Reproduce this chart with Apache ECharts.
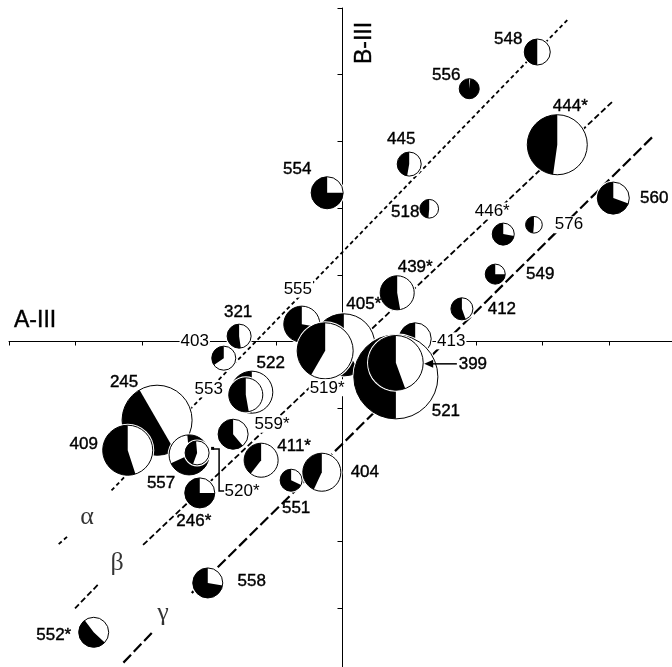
<!DOCTYPE html>
<html>
<head>
<meta charset="utf-8">
<script src="https://cdn.jsdelivr.net/npm/echarts@6/dist/echarts.min.js"></script>
<style>
  html, body { margin: 0; padding: 0; background: #fff; }
  #chart { width: 672px; height: 667px; }
</style>
</head>
<body>
<div id="chart"></div>
<script>
// Pie glyphs placed on the A-III / B-III plane.
// size = diameter in axis units; black sector given in degrees clockwise from 12 o'clock.
// Array order is drawing order (overlapping ones drawn later sit on top).
const pieNames  = ['245', '409', '557', '520*', '522', '553', '555', '405*', '519*', '413', '521', '399',
                   '548', '556', '444*', '445', '554', '518', '560', '446*', '576', '549', '439*', '412',
                   '321', '403', '559*', '411*', '246*', '551', '404', '558', '552*'];
const pieX      = [-2.78, -3.22, -2.30, -2.18, -1.36, -1.45, -0.61, 0.02, -0.26, 1.09, 0.80, 0.80,
                   2.92, 1.90, 3.22, 1.00, -0.23, 1.30, 4.06, 2.41, 2.87, 2.29, 0.82, 1.79,
                   -1.55, -1.78, -1.64, -1.22, -2.14, -0.77, -0.31, -2.02, -3.73];
const pieY      = [-1.18, -1.63, -1.70, -1.67, -0.76, -0.80, 0.26, -0.05, -0.14, 0.04, -0.53, -0.32,
                   4.34, 3.79, 2.95, 2.66, 2.23, 1.99, 2.15, 1.61, 1.75, 1.01, 0.73, 0.49,
                   0.08, -0.25, -1.39, -1.78, -2.27, -2.08, -1.96, -3.62, -4.36];
const pieSize   = [1.05, 0.75, 0.60, 0.36, 0.63, 0.51, 0.54, 0.93, 0.84, 0.48, 1.26, 0.82,
                   0.39, 0.30, 0.90, 0.36, 0.48, 0.28, 0.48, 0.33, 0.25, 0.30, 0.51, 0.33,
                   0.36, 0.36, 0.45, 0.51, 0.45, 0.33, 0.57, 0.45, 0.45];
const blackFrom = [150, 162, -5, 200, 180, 170, 100, 150, 210, 180, 180, 160,
                   180, 6, 188, 190, 90, 185, 110, 100, 185, 90, 170, 160,
                   172, 235, 140, 218, 90, 115, 205, 100, 133];
const blackTo   = [330, 360, 245, 355, 360, 360, 360, 360, 360, 360, 360, 360,
                   360, 360, 360, 360, 360, 360, 360, 360, 360, 360, 360, 360,
                   360, 360, 360, 360, 360, 360, 360, 360, 323];

// Reference lines alpha, beta, gamma (segments, broken where the greek letter sits)
const alphaLine = [[[3.37, 4.82], [-3.49, -2.26]], [[-4.13, -2.93], [-4.27, -3.05]]];
const betaLine  = [[[4.04, 3.59], [-2.99, -3.05]], [[-3.67, -3.65], [-4.01, -4.00]]];
const gammaLine = [[[4.64, 3.06], [-2.26, -3.77]], [[-2.86, -4.37], [-3.29, -4.82]]];
const greekNames = ['α', 'β', 'γ'];
const greekPos   = [[-3.83, -2.64], [-3.38, -3.32], [-2.69, -4.07]];

// label offsets from the pie centre (px), third entry = white box over lines
const labelPos = {
  '548': [-29, -13], '556': [-23, -13], '444*': [13, -38], '445': [-8, -25], '554': [-30, -23],
  '518': [-24, 4], '560': [41, 0], '446*': [-11, -23, true], '576': [35, 0, true], '549': [45, 0],
  '439*': [18, -25], '412': [40, 0], '321': [-1, -24], '403': [-29, -17, true], '555': [-4, -35, true],
  '405*': [20, -41], '519*': [2, 37, true], '413': [36, 2, true], '521': [50, 34], '399': [77, 1],
  '522': [19, -29], '553': [-37, -6, true], '245': [-33, -38], '409': [-44, -6], '557': [-28, 28],
  '520*': [45, 38, true], '559*': [39, -10, true], '411*': [33, -14], '246*': [-6, 28], '551': [5, 28],
  '404': [43, 0], '558': [44, -2], '552*': [-40, 3]
};

const pieData = pieNames.map((n, i) => [pieX[i], pieY[i], pieSize[i], blackFrom[i], blackTo[i], i]);
const FONT = '17px "Liberation Sans", Arial, sans-serif';
const DEG = Math.PI / 180;

function renderPie(params, api) {
  const c = api.coord([api.value(0), api.value(1)]);
  const r = api.size([api.value(2), 0])[0] / 2;
  const a0 = (api.value(3) - 90) * DEG;
  const a1 = (api.value(4) - 90) * DEG;
  return {
    type: 'group',
    children: [
      { type: 'circle', shape: { cx: c[0], cy: c[1], r: r + 1.5 }, style: { fill: '#fff' } },
      { type: 'sector', shape: { cx: c[0], cy: c[1], r0: 0, r: r, startAngle: a0, endAngle: a1, clockwise: true },
        style: { fill: '#000' } },
      { type: 'circle', shape: { cx: c[0], cy: c[1], r: r }, style: { fill: 'none', stroke: '#000', lineWidth: 1 } }
    ]
  };
}

function renderLabel(params, api) {
  const name = pieNames[api.value(5)];
  const c = api.coord([api.value(0), api.value(1)]);
  const lp = labelPos[name];
  const style = {
    text: name, font: FONT, fill: '#000', align: 'center', verticalAlign: 'middle',
    backgroundColor: lp[2] ? '#fff' : 'transparent', padding: [0, 1]
  };
  // the plain labels print a little heavier in the original
  if (!lp[2]) { style.stroke = '#000'; style.lineWidth = 0.4; }
  const children = [{ type: 'text', x: c[0] + lp[0], y: c[1] + lp[1], style: style }];
  if (name === '399') {
    const r = api.size([api.value(2), 0])[0] / 2;
    const tip = c[0] + r + 1;
    children.push({ type: 'line', shape: { x1: c[0] + 61, y1: c[1] + 1, x2: tip + 6, y2: c[1] + 1 },
      style: { stroke: '#000', lineWidth: 1.5 } });
    children.push({ type: 'polygon', shape: { points: [[tip, c[1] + 1], [tip + 9, c[1] - 3], [tip + 9, c[1] + 5]] },
      style: { fill: '#000' } });
  }
  if (name === '520*') {
    children.push({ type: 'polyline',
      shape: { points: [[c[0] + 16, c[1] - 4], [c[0] + 22, c[1] - 4], [c[0] + 22, c[1] + 38], [c[0] + 27, c[1] + 38]] },
      style: { stroke: '#000', lineWidth: 1.5, fill: 'none' } });
    children.push({ type: 'rect', shape: { x: c[0] + 14, y: c[1] - 6, width: 3, height: 3 }, style: { fill: '#000' } });
  }
  return { type: 'group', children: children };
}

function lineSeries(segs, dash, width) {
  return segs.map(s => ({
    type: 'line', data: s, symbol: 'none', silent: true, z: 1,
    lineStyle: { color: '#000', width: width, type: dash }
  }));
}

const axisCommon = {
  type: 'value', min: -5, max: 5, interval: 1,
  axisLine: { onZero: true, lineStyle: { color: '#000', width: 1 } },
  axisLabel: { show: false },
  splitLine: { show: false }
};

const chart = echarts.init(document.getElementById('chart'), null, { renderer: 'canvas' });
chart.setOption({
  animation: false,
  backgroundColor: '#fff',
  // the plot runs off the right and bottom edges, so no clamping to the container
  grid: { left: 9, top: 8, width: 667, height: 667, containLabel: false, outerBoundsMode: 'none' },
  xAxis: Object.assign({}, axisCommon, { axisTick: { length: 4, lineStyle: { color: '#000' } } }),
  yAxis: Object.assign({}, axisCommon, { axisTick: { length: 5, lineStyle: { color: '#000' } } }),
  graphic: [
    { type: 'text', x: 14, y: 321,
      style: { text: 'A-III', font: '23px "Liberation Sans", Arial, sans-serif', fill: '#000',
               stroke: '#000', lineWidth: 0.4, align: 'left', verticalAlign: 'middle' } },
    { type: 'text', x: 365, y: 43, rotation: Math.PI / 2,
      style: { text: 'B-III', font: '23px "Liberation Sans", Arial, sans-serif', fill: '#000',
               stroke: '#000', lineWidth: 0.4, align: 'center', verticalAlign: 'middle' } }
  ],
  series: [].concat(
    lineSeries(alphaLine, [4, 3], 1.8),
    lineSeries(betaLine, [6, 3], 1.8),
    lineSeries(gammaLine, [11, 4], 2.2),
    [
      { type: 'custom', renderItem: renderPie, data: pieData, z: 3, silent: true },
      { type: 'custom', renderItem: renderLabel, data: pieData, z: 5, silent: true },
      {
        type: 'scatter', symbolSize: 1, silent: true, z: 4,
        itemStyle: { color: 'transparent' },
        data: greekNames.map((g, i) => ({ name: g, value: greekPos[i] })),
        label: { show: true, position: 'inside', formatter: '{b}', color: '#000',
                 fontFamily: '"Liberation Serif", "Times New Roman", serif', fontSize: 26 }
      }
    ]
  )
});
</script>
</body>
</html>
